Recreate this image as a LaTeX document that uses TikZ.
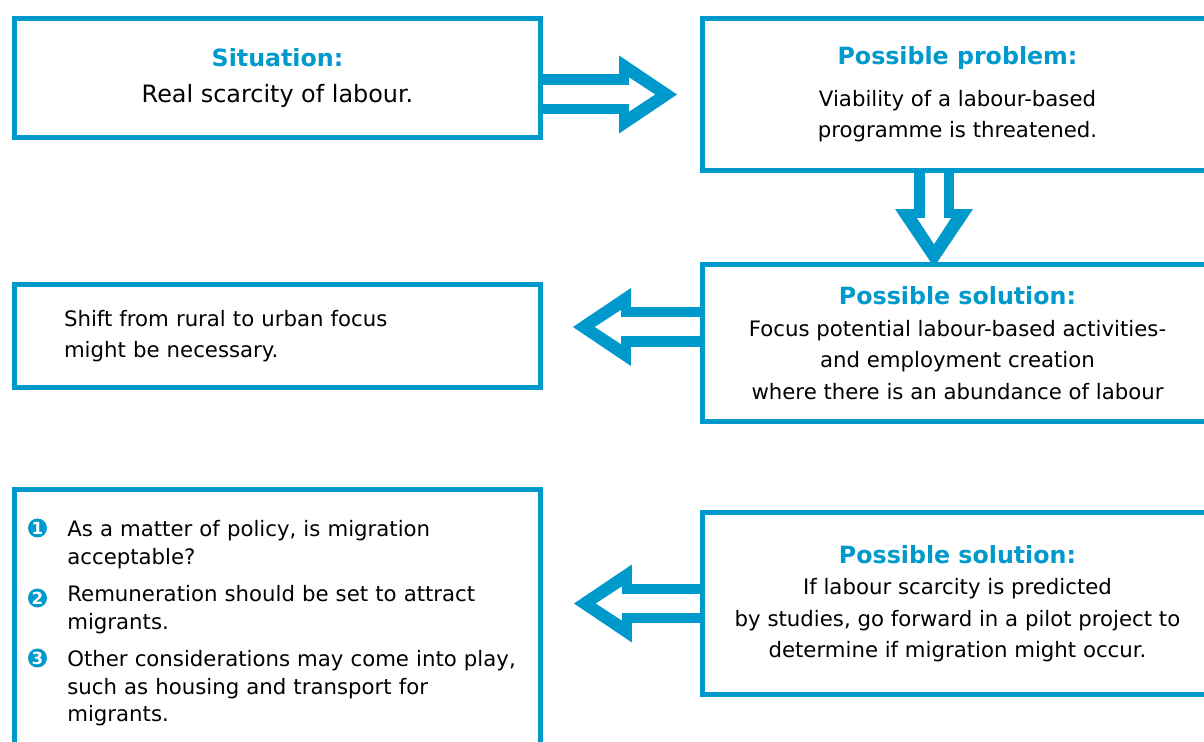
\documentclass[tikz,border=0pt]{standalone}
\usepackage{fontspec}
\setmainfont{DejaVu Sans}
\usetikzlibrary{arrows.meta}
\definecolor{iloblue}{RGB}{0,153,204}
\newcommand{\boxtitle}[1]{{\fontsize{13.5}{16}\selectfont\bfseries\color{iloblue}#1}}

\begin{document}
\begin{tikzpicture}[
  x=0.02cm, y=-0.02cm,
  box/.style={rectangle, draw=iloblue, line width=0.1cm, minimum width=10.52cm, align=center, inner sep=0pt, font=\fontsize{12.1}{17.9}\selectfont},
  widebox/.style={box, minimum width=10.2cm},
  itemtext/.style={anchor=base west, text width=9.4cm, align=left, inner sep=0pt, font=\fontsize{12.1}{15.5}\selectfont},
  num/.style={circle, fill=iloblue, text=white, inner sep=0pt, minimum size=0.38cm, font=\fontsize{9.5}{9.5}\selectfont\bfseries},
  outerarr/.style={-{Triangle[length=1.16cm, width=1.56cm, line width'=0pt]}, line width=0.8cm, iloblue},
  innerarr/.style={-{Triangle[length=0.52cm, width=0.68cm, line width'=0pt]}, line width=0.38cm, white},
]
  \useasboundingbox (0,0) rectangle (1204,742);
  \clip (0,0) rectangle (1204,742);

  % left column
  \node[box, minimum height=2.38cm] (sit) at (277.5,78) {\boxtitle{Situation:}\\[0.08cm] {\fontsize{13.6}{16}\selectfont Real scarcity of labour.}};
  \node[box, minimum height=2.06cm, align=left, text width=8.54cm] (shift) at (277.5,336) {Shift from rural to urban focus\\ might be necessary.};
  \node[box, anchor=north, minimum height=5.5cm] (bul) at (277.5,487) {};

  % numbered points
  \node[itemtext] (t1) at (67,537) {As a matter of policy, is migration\\ acceptable?};
  \node[itemtext] (t2) at (67,602) {Remuneration should be set to attract\\ migrants.};
  \node[itemtext] (t3) at (67,667) {Other considerations may come into play,\\ such as housing and transport for\\ migrants.};
  \node[num] (n1) at (37.5,528) {1};
  \node[num] (n2) at (37.5,598) {2};
  \node[num] (n3) at (37.5,658) {3};

  % right column
  \node[widebox, minimum height=3.04cm] (prob) at (957.5,94.5) {\boxtitle{Possible problem:}\\[0.2cm] Viability of a labour-based\\ programme is threatened.};
  \node[widebox, minimum height=3.14cm] (sol) at (957.5,343) {\boxtitle{Possible solution:}\\ Focus potential labour-based activities-\\ and employment creation\\ where there is an abundance of labour};
  \node[widebox, minimum height=3.64cm] (sol2) at (957.5,603.5) {\boxtitle{Possible solution:}\\ If labour scarcity is predicted\\ by studies, go forward in a pilot project to\\ determine if migration might occur.};

  % hollow arrows
  \draw[outerarr, shorten >=0.46cm] (sit.east |- prob.west) -- (prob.west);
  \draw[innerarr, shorten >=0.9cm] (sit.east |- prob.west) -- (prob.west);

  \draw[outerarr, shorten >=-0.1cm] ([xshift=-0.47cm]prob.south) -- ([xshift=-0.47cm]sol.north);
  \draw[innerarr, shorten >=0.36cm] ([xshift=-0.47cm]prob.south) -- ([xshift=-0.47cm]sol.north);

  \coordinate (a3) at ([yshift=0.32cm]sol.west);
  \draw[outerarr, shorten >=0.6cm] (a3) -- (shift.east |- a3);
  \draw[innerarr, shorten >=1.04cm] (a3) -- (shift.east |- a3);

  \draw[outerarr, shorten >=0.62cm] (sol2.west) -- (bul.east |- sol2.west);
  \draw[innerarr, shorten >=1.06cm] (sol2.west) -- (bul.east |- sol2.west);
\end{tikzpicture}
\end{document}
